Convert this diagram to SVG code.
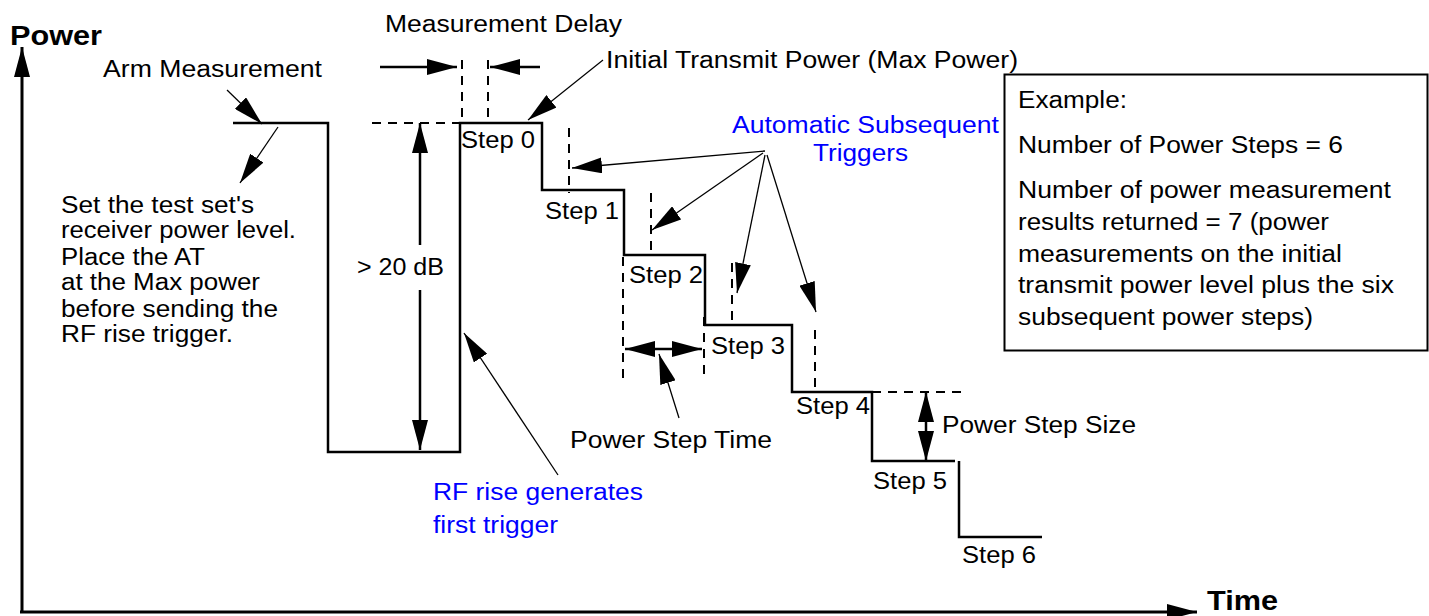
<svg xmlns="http://www.w3.org/2000/svg" width="1429" height="616" viewBox="0 0 1429 616">
  <defs>
    <marker id="head" viewBox="0 0 30 16" refX="30" refY="8" markerWidth="30" markerHeight="16" markerUnits="userSpaceOnUse" orient="auto">
      <path d="M0,0L30,8L0,16z" fill="#000"/>
    </marker>
  </defs>
  <style>
    text { font-family: "Liberation Sans", Arial, sans-serif; font-size: 23.5px; fill: #000; }
    .title { font-weight: bold; font-size: 27px; }
    .blue { fill: #0000ff; }
    .axis { fill: none; stroke: #000; stroke-width: 3; marker-end: url(#head); }
    .wave { fill: none; stroke: #000; stroke-width: 2.5; }
    .guide { fill: none; stroke: #000; stroke-width: 2; stroke-dasharray: 9 7; }
    .dim { fill: none; stroke: #000; stroke-width: 2.5; marker-end: url(#head); }
    .ptr { fill: none; stroke: #000; stroke-width: 1.3; marker-end: url(#head); }
    .box { fill: #fff; stroke: #000; stroke-width: 2; }
  </style>
  <rect width="1429" height="616" fill="#fff"/>

  <!-- axes -->
  <g id="axes">
    <path class="axis" d="M22,612V47"/>
    <path class="axis" d="M20,612H1197"/>
    <text class="title" x="10" y="45" textLength="92" lengthAdjust="spacingAndGlyphs">Power</text>
    <text class="title" x="1207" y="610" textLength="71" lengthAdjust="spacingAndGlyphs">Time</text>
  </g>

  <!-- power staircase -->
  <g id="waveform">
    <path class="wave" d="M233,123H328V452H460V123H542V190H624V255H705V325H792V392H872V461H955"/>
    <path class="wave" d="M959,461V537H1042"/>
  </g>

  <!-- dashed reference lines -->
  <g id="guides">
    <path class="guide" d="M372,123H460"/>
    <path class="guide" d="M462,60V123M488,60V123"/>
    <path class="guide" d="M569,128V193"/>
    <path class="guide" d="M651,193V255"/>
    <path class="guide" d="M623,257V378"/>
    <path class="guide" d="M704,317V376"/>
    <path class="guide" d="M732,263V327"/>
    <path class="guide" d="M815,330V392"/>
    <path class="guide" d="M872,392H968"/>
  </g>

  <!-- dimension arrows and pointers -->
  <g id="connectors">
    <path class="dim" d="M380,67H457"/>
    <path class="dim" d="M540,67H490"/>
    <path class="dim" d="M420,245V123"/>
    <path class="dim" d="M420,290V450"/>
    <path class="dim" d="M926,427V392"/>
    <path class="dim" d="M926,427V461"/>
    <path class="dim" d="M663,349H625"/>
    <path class="dim" d="M663,349H702"/>
    <path class="ptr" d="M227,90L262,124"/>
    <path class="ptr" d="M278,127L240,183"/>
    <path class="ptr" d="M603,60L528,120"/>
    <path class="ptr" d="M765,151L572,168"/>
    <path class="ptr" d="M763,153L652,230"/>
    <path class="ptr" d="M765,155L737,293"/>
    <path class="ptr" d="M767,155L816,312"/>
    <path class="ptr" d="M558,475L464,333"/>
    <path class="ptr" d="M679,418L659,354"/>
  </g>

  <!-- annotation labels -->
  <g id="labels">
    <text x="385" y="32" textLength="237" lengthAdjust="spacingAndGlyphs">Measurement Delay</text>
    <text x="103" y="77" textLength="219" lengthAdjust="spacingAndGlyphs">Arm Measurement</text>
    <text x="606" y="68" textLength="412" lengthAdjust="spacingAndGlyphs">Initial Transmit Power (Max Power)</text>
    <text class="blue" x="732" y="133" textLength="267" lengthAdjust="spacingAndGlyphs">Automatic Subsequent</text>
    <text class="blue" x="813" y="161" textLength="95" lengthAdjust="spacingAndGlyphs">Triggers</text>
    <text x="357" y="275" textLength="87" lengthAdjust="spacingAndGlyphs">&gt; 20 dB</text>
    <text x="570" y="448" textLength="202" lengthAdjust="spacingAndGlyphs">Power Step Time</text>
    <text x="942" y="433" textLength="194" lengthAdjust="spacingAndGlyphs">Power Step Size</text>
    <text class="blue" x="433" y="500" textLength="210" lengthAdjust="spacingAndGlyphs">RF rise generates</text>
    <text class="blue" x="433" y="533" textLength="125" lengthAdjust="spacingAndGlyphs">first trigger</text>
  </g>

  <!-- step labels -->
  <g id="steps">
    <text x="461" y="148" textLength="74" lengthAdjust="spacingAndGlyphs">Step 0</text>
    <text x="545" y="219" textLength="74" lengthAdjust="spacingAndGlyphs">Step 1</text>
    <text x="629" y="283" textLength="74" lengthAdjust="spacingAndGlyphs">Step 2</text>
    <text x="711" y="354" textLength="74" lengthAdjust="spacingAndGlyphs">Step 3</text>
    <text x="796" y="414" textLength="74" lengthAdjust="spacingAndGlyphs">Step 4</text>
    <text x="873" y="489" textLength="74" lengthAdjust="spacingAndGlyphs">Step 5</text>
    <text x="962" y="563" textLength="74" lengthAdjust="spacingAndGlyphs">Step 6</text>
  </g>

  <!-- setup note -->
  <g id="setup-note">
    <text x="61" y="213" textLength="193" lengthAdjust="spacingAndGlyphs">Set the test set's</text>
    <text x="61" y="238" textLength="235" lengthAdjust="spacingAndGlyphs">receiver power level.</text>
    <text x="61" y="265" textLength="144" lengthAdjust="spacingAndGlyphs">Place the AT</text>
    <text x="61" y="290" textLength="199" lengthAdjust="spacingAndGlyphs">at the Max power</text>
    <text x="61" y="317" textLength="217" lengthAdjust="spacingAndGlyphs">before sending the</text>
    <text x="61" y="342" textLength="172" lengthAdjust="spacingAndGlyphs">RF rise trigger.</text>
  </g>

  <!-- example box -->
  <g id="example">
    <rect class="box" x="1004.5" y="74.5" width="423" height="276"/>
    <text x="1018" y="108" textLength="109" lengthAdjust="spacingAndGlyphs">Example:</text>
    <text x="1018" y="153" textLength="325" lengthAdjust="spacingAndGlyphs">Number of Power Steps = 6</text>
    <text x="1018" y="198" textLength="373" lengthAdjust="spacingAndGlyphs">Number of power measurement</text>
    <text x="1018" y="230" textLength="311" lengthAdjust="spacingAndGlyphs">results returned = 7 (power</text>
    <text x="1018" y="262" textLength="324" lengthAdjust="spacingAndGlyphs">measurements on the initial</text>
    <text x="1018" y="293" textLength="376" lengthAdjust="spacingAndGlyphs">transmit power level plus the six</text>
    <text x="1018" y="325" textLength="295" lengthAdjust="spacingAndGlyphs">subsequent power steps)</text>
  </g>
</svg>
